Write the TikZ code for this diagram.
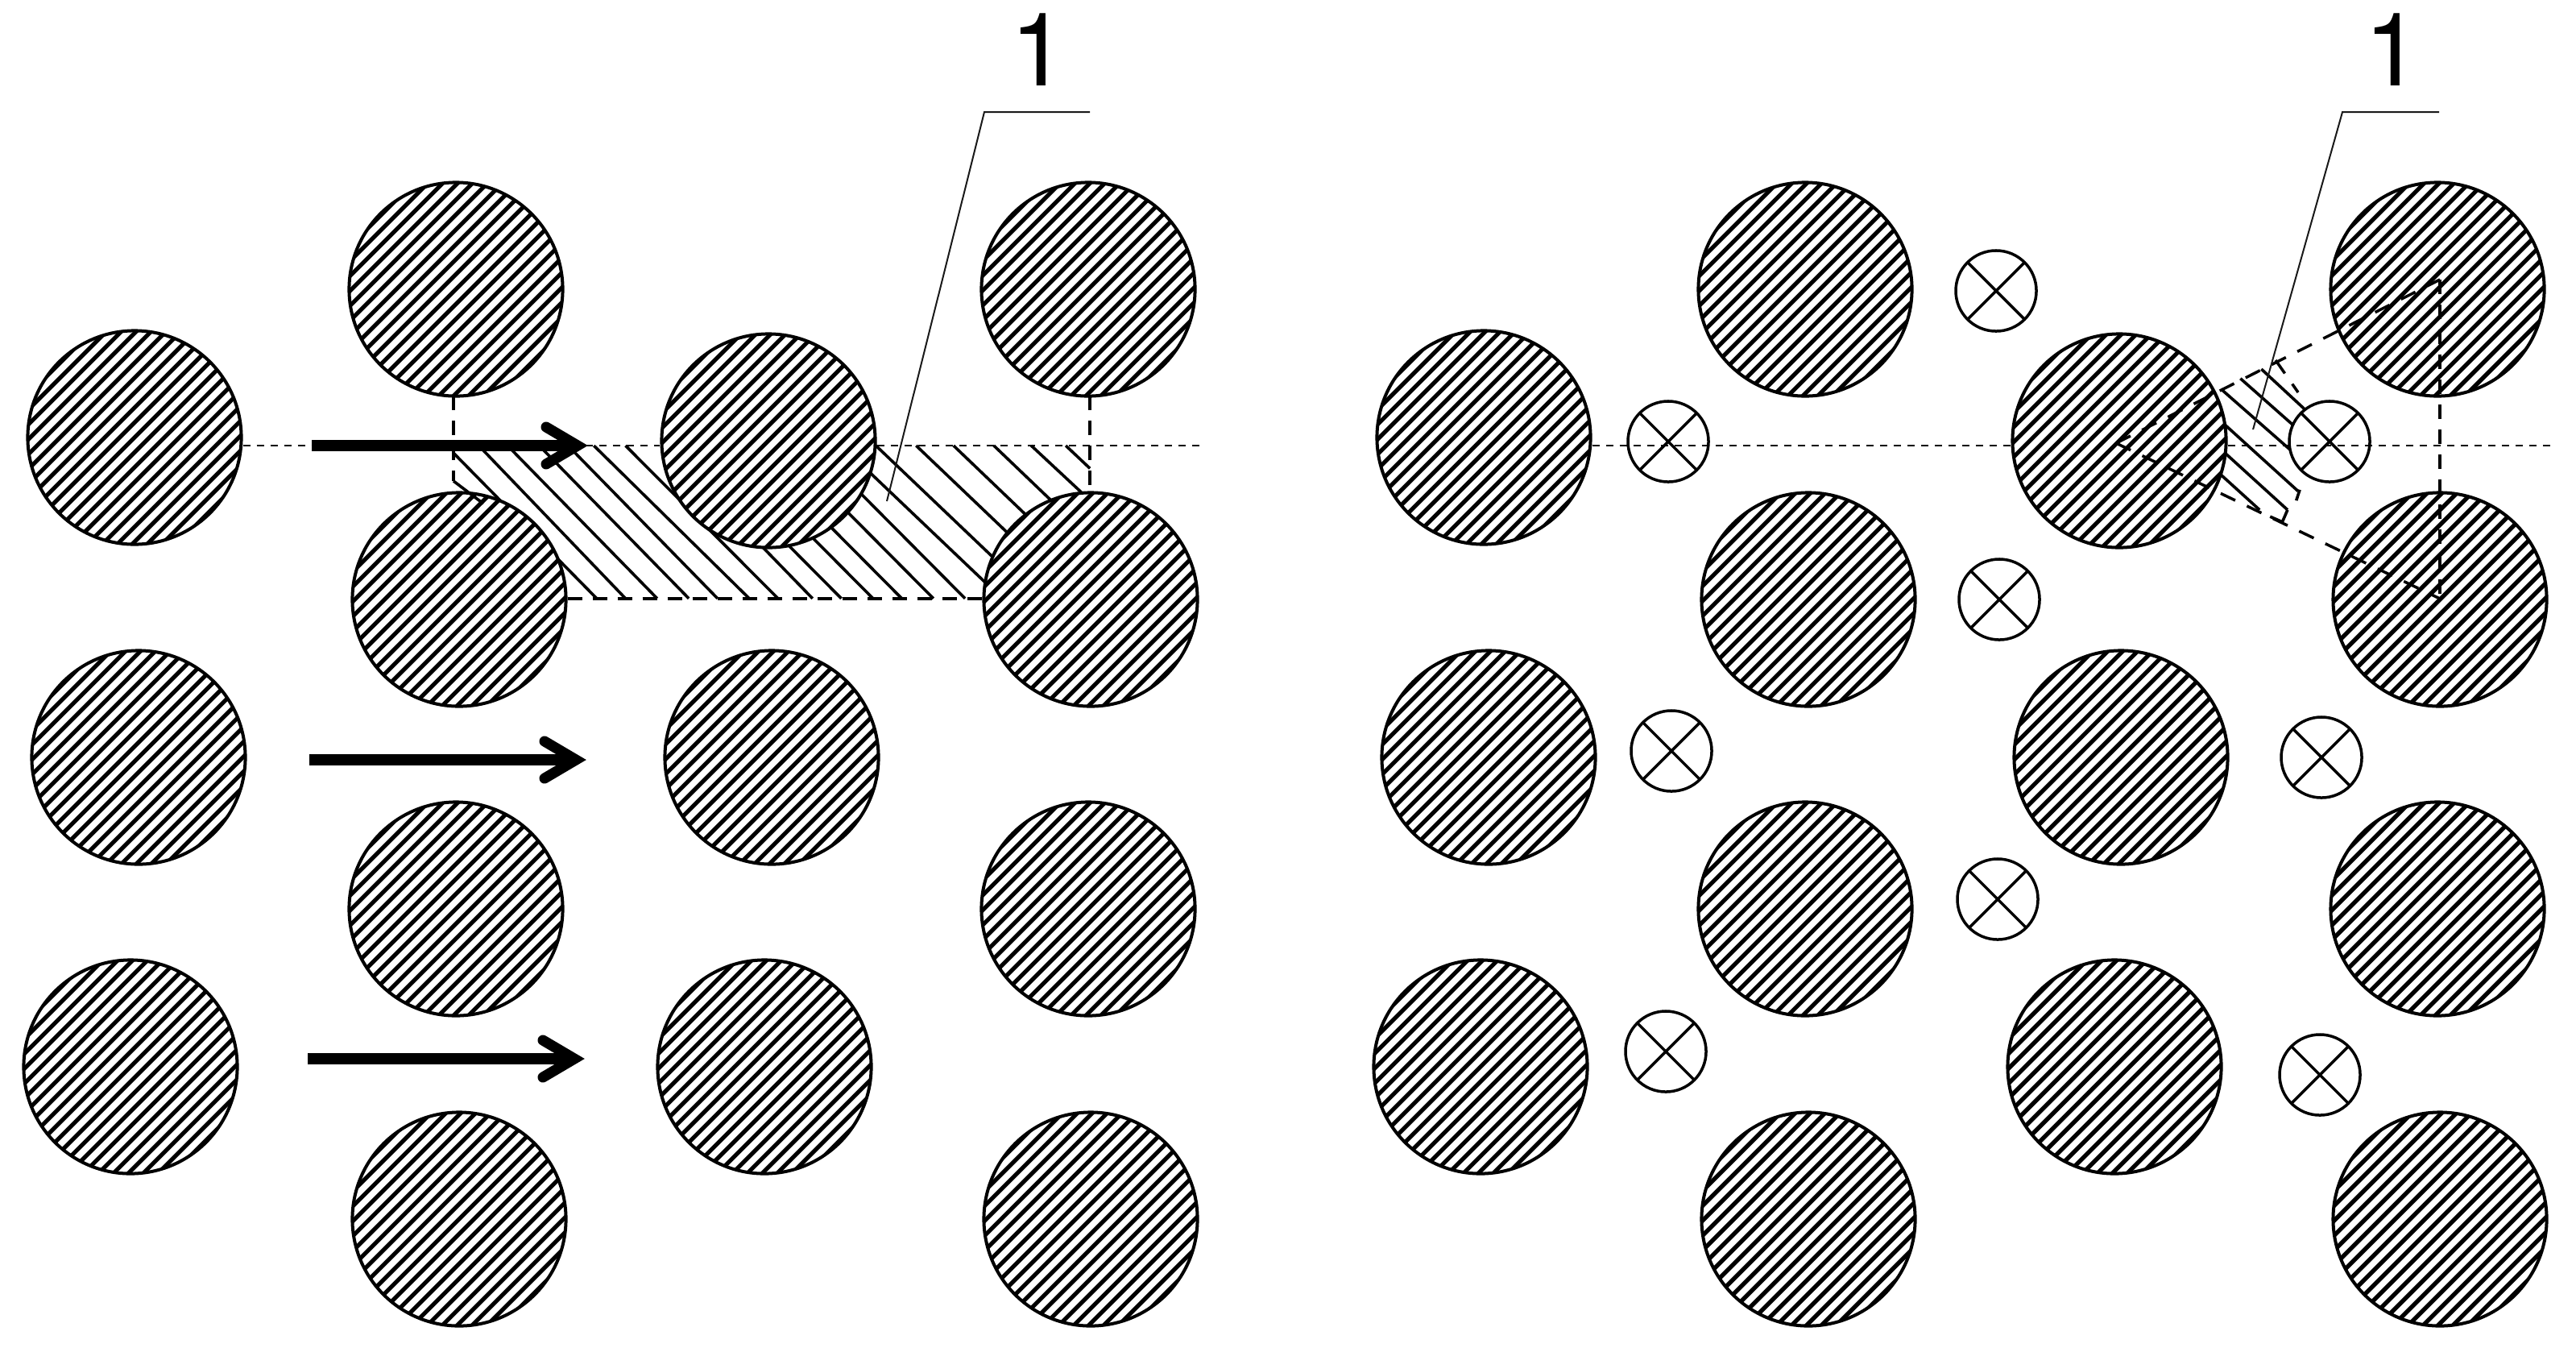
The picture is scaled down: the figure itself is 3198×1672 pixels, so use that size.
\documentclass[tikz,border=0pt]{standalone}
\usepackage{fontspec}
\setmainfont{TeX Gyre Heros}
\tikzset{
  hatchcirc/.style={circle,draw=black,fill=white,line width=0.04cm,inner sep=0pt,minimum size=2.65cm,
    path picture={\foreach \i in {-14,...,14}{
      \draw[line width=0.052cm] ([shift={(\i*18.5-170,170)}]path picture bounding box.center) -- ([shift={(\i*18.5+170,-170)}]path picture bounding box.center);}}},
  crosscirc/.style={circle,draw=black,fill=white,line width=0.035cm,inner sep=0pt,minimum size=1.0cm,
    path picture={\draw[line width=0.035cm] (path picture bounding box.south west) -- (path picture bounding box.north east)
      (path picture bounding box.north west) -- (path picture bounding box.south east);}},
  axisline/.style={line width=0.022cm,dash pattern=on 0.09cm off 0.08cm},
  dashline/.style={line width=0.042cm,dash pattern=on 0.18cm off 0.13cm},
  thindash/.style={line width=0.035cm,dash pattern=on 0.2cm off 0.16cm},
  hatchline/.style={line width=0.036cm},
  leaderline/.style={line width=0.02cm,draw=black!90},
  shaftline/.style={line width=0.145cm,line cap=butt},
  headline/.style={line width=0.13cm,line cap=round,line join=miter},
  numlabel/.style={font=\fontsize{36pt}{36pt}\selectfont,inner sep=0pt}
}
\begin{document}
\begin{tikzpicture}[x=0.01cm,y=-0.01cm]
\useasboundingbox[fill=white] (0,0) rectangle (3198,1672);
% left hatch band
\begin{scope}[shift={(380,380)},x=0.00714cm,y=-0.003333cm,hatchline]
\foreach \a/\b/\c/\d in {255/545/505/1090,300/520/555/1090,350/520/610/1090,405/520/665/1090,455/520/715/1090,500/520/770/1090,555/520/820/1090,
 640/560/880/1090,680/550/930/1090,735/550/985/1090,785/550/1035/1090,840/550/1090/1090,895/550/1145/1090,950/560/1180/1030,
 990/520/1210/970,1060/520/1270/950,1125/520/1310/900,1195/520/1380/900,1260/520/1400/800,1320/520/1362/605}
  \draw (\a,\b) -- (\c,\d);
\end{scope}
% right hatch band
\begin{scope}[shift={(2480,300)},x=0.004337cm,y=-0.003333cm,hatchline]
\foreach \a/\b/\c/\d in {755/475/900/650,695/510/860/700,640/550/850/790,640/670/860/930,640/775/830/1000,640/870/750/1000}
  \draw (\a,\b) -- (\c,\d);
\draw (865,925) -- (855,965);
\draw (830,1000) -- (815,1045) -- (780,1025);
\end{scope}
% hatched circles, left
\foreach \n/\x/\y in {a1/167/543,a2/566/359,a3/1351/359,a4/954/547,a5/570/744,a6/1354/744,a7/172/940,a8/958/940,a9/566/1128,a10/1351/1128,a11/162/1324,a12/949/1324,a13/570/1513,a14/1354/1513}
  \node[hatchcirc] (\n) at (\x,\y) {};
% hatched circles, right
\foreach \n/\x/\y in {b1/1842/543,b2/2241/359,b3/3026/359,b4/2631/547,b5/2245/744,b6/3029/744,b7/1848/940,b8/2633/940,b9/2241/1128,b10/3026/1128,b11/1838/1324,b12/2625/1324,b13/2245/1513,b14/3029/1513}
  \node[hatchcirc] (\n) at (\x,\y) {};
% crossed circles
\foreach \n/\x/\y in {x1/2071/548,x2/2478/361,x3/2892/548,x4/2482/744,x5/2075/932,x6/2882/940,x7/2480/1116,x8/2068/1305,x9/2880/1334}
  \node[crosscirc] (\n) at (\x,\y) {};
% axis lines
\coordinate (la) at (1495,553);
\coordinate (ra) at (3172,553);
\draw[axisline] (a1.east |- la) -- (a4.west |- la);
\draw[axisline] (a4.east |- la) -- (la);
\draw[axisline] (b1.east |- ra) -- (b4.west |- ra);
\draw[axisline] (b4.east |- ra) -- (ra);
% left dashes
\coordinate (vla) at (563,491);
\coordinate (vlb) at (563,597);
\coordinate (vra) at (1353,491);
\coordinate (vrb) at (1353,603);
\coordinate (vlc) at (600,625);
\draw[dashline] (vla) -- (vlb);
\draw[hatchline] (vlb) -- (vlc);
\draw[dashline] (vra) -- (vrb);
\coordinate (bl) at (700,743);
\draw[dashline] (a5.east |- bl) -- (a6.west |- bl);
% right dashed triangle
\coordinate (tt) at (3029,347);
\coordinate (tc) at (2627,550);
\coordinate (tb) at (3029,743);
\draw[thindash] (tc) -- (tt);
\draw[thindash] (tc) -- (tb);
\draw[dashline] (tt) -- (tb);
\coordinate (ta) at (2825,447);
\coordinate (tz) at (2853,487);
\draw[thindash] (ta) -- (tz);
% arrows
\foreach \sx/\ex/\y/\n in {387/717/553/p,384/715/943/q,382/713/1314/r}{
  \coordinate (\n s) at (\sx,\y);
  \coordinate (\n e) at (\ex,\y);
  \coordinate (\n u) at (\ex-39,\y-23);
  \coordinate (\n d) at (\ex-39,\y+23);
  \draw[shaftline] (\n s) -- (\n e);
  \draw[headline] (\n u) -- (\n e) -- (\n d);
}
% leaders and labels
\node[numlabel] (l1) at (1290,62) {1};
\node[numlabel] (l2) at (2971,62) {1};
\coordinate (l1a) at (1353,139);
\coordinate (l1b) at (1222,139);
\coordinate (l1c) at (1101,622);
\coordinate (l2a) at (3028,139);
\coordinate (l2b) at (2908,139);
\coordinate (l2c) at (2797,533);
\draw[leaderline] (l1a) -- (l1b) -- (l1c);
\draw[leaderline] (l2a) -- (l2b) -- (l2c);
\end{tikzpicture}
\end{document}
